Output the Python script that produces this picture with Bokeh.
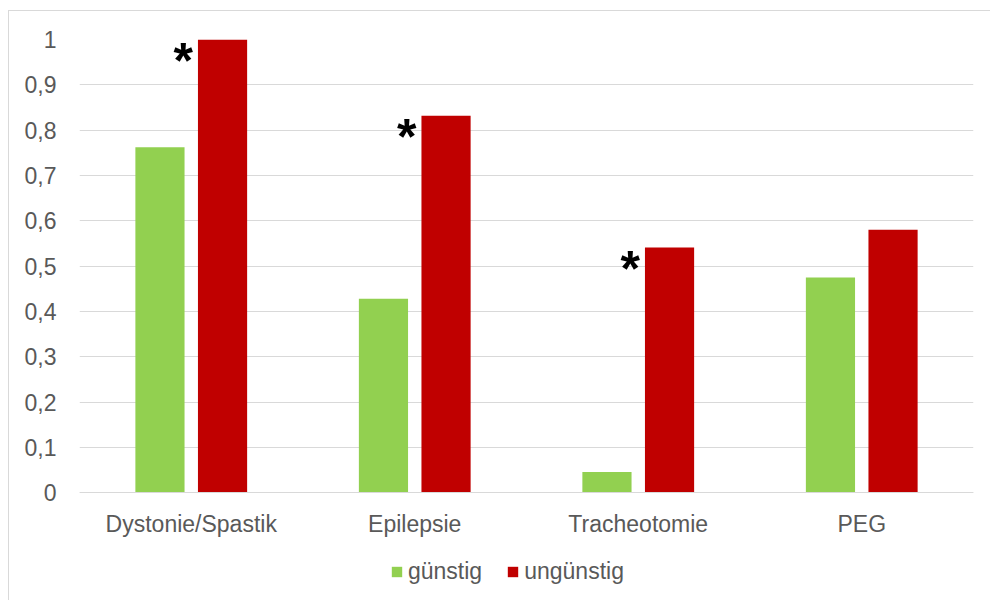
from bokeh.plotting import figure
from bokeh.models import (ColumnDataSource, FactorRange, Range1d, FixedTicker,
                          Legend, LegendItem)
from bokeh.transform import dodge
from bokeh.core.properties import value
from bokeh.embed import file_html
from bokeh.resources import INLINE

# Share of patients per finding, split by outcome
categories = ["Dystonie/Spastik", "Epilepsie", "Tracheotomie", "PEG"]
guenstig = [0.762, 0.428, 0.046, 0.475]
unguenstig = [1.0, 0.832, 0.541, 0.58]
# findings marked with an asterisk (significant difference)
significant = ["Dystonie/Spastik", "Epilepsie", "Tracheotomie"]

y_ticks = [0, 0.1, 0.2, 0.3, 0.4, 0.5, 0.6, 0.7, 0.8, 0.9, 1.0]
y_tick_labels = ["0", "0,1", "0,2", "0,3", "0,4", "0,5", "0,6", "0,7", "0,8", "0,9", "1"]

GREEN = "#92D050"
RED = "#C00000"
GRID = "#D9D9D9"
TEXT = "#595959"
FONT = "Liberation Sans"

source = ColumnDataSource(dict(cat=categories, g=guenstig, u=unguenstig))
star_source = ColumnDataSource(dict(
    cat=significant,
    y=[unguenstig[categories.index(c)] for c in significant],
))

# The frame runs down to the bottom edge so the legend can sit inside it;
# the category axis is pinned to y = 0.
p = figure(
    width=982, height=590,
    x_range=FactorRange(*categories, range_padding=0, factor_padding=0),
    y_range=Range1d(-0.24, 1),
    output_backend="svg", toolbar_location=None,
    min_border_left=70, min_border_right=18, min_border_top=28, min_border_bottom=0,
    background_fill_color="white", border_fill_color="white",
    margin=(10, 0, 0, 8),
    styles={"border-left": "1px solid #D9D9D9", "border-top": "1px solid #D9D9D9"},
)
p.outline_line_color = None

g = p.vbar(x=dodge("cat", -0.14, range=p.x_range), top="g", bottom=0, width=0.22,
           source=source, fill_color=GREEN, line_color=None)
u = p.vbar(x=dodge("cat", 0.14, range=p.x_range), top="u", bottom=0, width=0.22,
           source=source, fill_color=RED, line_color=None)

p.text(x=dodge("cat", -0.036, range=p.x_range), y="y", text=value("*"),
       source=star_source, text_font=value(FONT), text_font_style="bold",
       text_font_size="50px", text_color="black", text_align="center",
       text_baseline="middle", y_offset=21)

# grid and axes
p.xgrid.grid_line_color = None
p.ygrid.grid_line_color = GRID
p.ygrid.grid_line_width = 1
p.ygrid.ticker = FixedTicker(ticks=y_ticks)

p.yaxis.ticker = FixedTicker(ticks=y_ticks)
p.yaxis.major_label_overrides = {t: l for t, l in zip(y_ticks, y_tick_labels)}
p.yaxis.axis_line_color = None
p.yaxis.major_tick_line_color = None
p.yaxis.minor_tick_line_color = None
p.yaxis.major_label_standoff = 17
p.yaxis.major_label_text_font = FONT
p.yaxis.major_label_text_font_size = "23px"
p.yaxis.major_label_text_color = TEXT

p.xaxis.fixed_location = 0
p.xaxis.axis_line_color = GRID
p.xaxis.axis_line_width = 1
p.xaxis.major_tick_line_color = None
p.xaxis.minor_tick_line_color = None
p.xaxis.major_label_standoff = 12
p.xaxis.major_label_text_font = FONT
p.xaxis.major_label_text_font_size = "23px"
p.xaxis.major_label_text_color = TEXT

legend = Legend(
    items=[LegendItem(label="günstig", renderers=[g]),
           LegendItem(label="ungünstig", renderers=[u])],
    orientation="horizontal", location=(311, 16),
    padding=0, margin=0, spacing=24, glyph_width=13, glyph_height=13,
    label_standoff=5, border_line_color=None, background_fill_alpha=0,
    label_text_font=FONT, label_text_font_size="23px", label_text_color=TEXT,
)
p.add_layout(legend)

open("out.html", "w").write(file_html(p, INLINE))
